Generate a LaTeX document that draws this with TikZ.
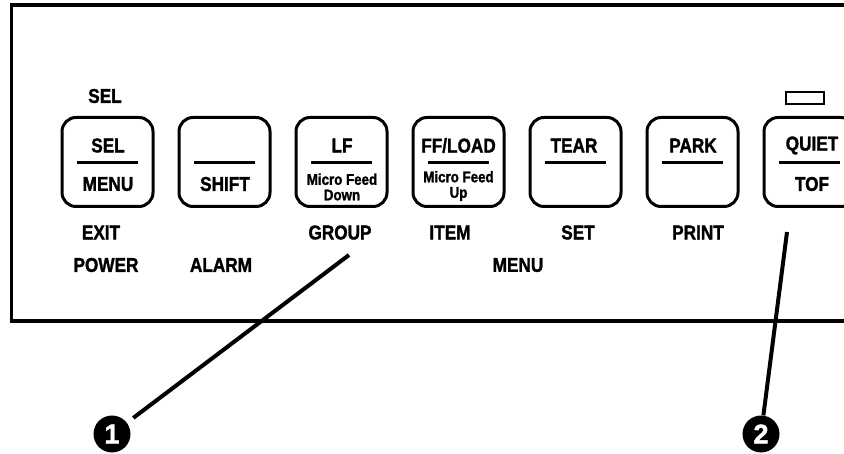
\documentclass[tikz,border=0pt]{standalone}
\usepackage{fontspec}
\setmainfont{Liberation Sans}[BoldFeatures={FakeBold=1.6}]
\newcommand\cnd[1]{\scalebox{0.86}[1]{#1}}
\newcommand\cns[1]{\scalebox{0.86}[1]{#1}}
\tikzset{
  btn/.style={draw, line width=3pt, rounded corners=14pt, minimum width=91pt, minimum height=89pt, inner sep=0pt},
  divl/.style={line width=3pt},
  lbl/.style={font=\fontsize{20}{20}\selectfont\bfseries, inner sep=0pt},
  sml/.style={font=\fontsize{15.5}{15.5}\selectfont\bfseries, inner sep=0pt, align=center},
  leader/.style={line width=4pt},
  callout/.style={circle, fill=black, minimum size=37pt, inner sep=0pt, text=white, font=\fontsize{27}{27}\selectfont\bfseries},
}
\begin{document}
\begin{tikzpicture}[x=1pt,y=-1pt]
\useasboundingbox (0,0) rectangle (844,454);
\clip (0,0) rectangle (844,454);
% panel frame (open on the right)
\draw[line width=3.5pt] (850,5) -- (11.5,5) -- (11.5,321) -- (850,321);
% buttons
\foreach \i/\n in {0/b1,1/b2,2/b3,3/b4,4/b5,5/b6,6/b7}{
  \node[btn] (\n) at ({107.5+117*\i},162) {};
  \draw[divl] ([xshift=-30.5pt,yshift=-1pt]\n.center) -- ++(61,0);
}
% button texts
\node[lbl] (t1a) at (108,145.5) {\cnd{SEL}};
\node[lbl] (t1b) at (108,184) {\cnd{MENU}};
\node[lbl] (t2b) at (225,184) {\cnd{SHIFT}};
\node[lbl] (t3a) at (342,145.5) {\cnd{LF}};
\node[sml] (t3b) at (342,187) {\cns{Micro Feed}\\\cns{Down}};
\node[lbl] (t4a) at (458.5,145.5) {\cnd{FF/LOAD}};
\node[sml] (t4b) at (458.5,186) {\cns{Micro Feed}\\\cns{Up}};
\node[lbl] (t5a) at (574,145.5) {\cnd{TEAR}};
\node[lbl] (t6a) at (693,145.5) {\cnd{PARK}};
\node[lbl] (t7a) at (812,145.5) {\cnd{QUIET}};
\node[lbl] (t7b) at (812,184) {\cnd{TOF}};
% indicator lamp
\draw[line width=2.5pt] (786,92) rectangle (824,104);
% labels around the buttons
\node[lbl] (sel) at (105,96) {\cnd{SEL}};
\node[lbl] (exit) at (101,232.5) {\cnd{EXIT}};
\node[lbl] (power) at (106,265) {\cnd{POWER}};
\node[lbl] (alarm) at (221,265) {\cnd{ALARM}};
\node[lbl] (group) at (340,232.5) {\cnd{GROUP}};
\node[lbl] (item) at (450,232.5) {\cnd{ITEM}};
\node[lbl] (menu) at (518,265) {\cnd{MENU}};
\node[lbl] (set) at (578,232.5) {\cnd{SET}};
\node[lbl] (print) at (698,232.5) {\cnd{PRINT}};
% callouts
\node[callout] (c1) at (112,434) {1};
\node[callout] (c2) at (761,434) {2};
\coordinate (p1) at (349,255);
\coordinate (p2) at (787,232);
\draw[leader, shorten >=8pt] (p1) -- (c1);
\draw[leader] (p2) -- (c2);
\end{tikzpicture}
\end{document}
